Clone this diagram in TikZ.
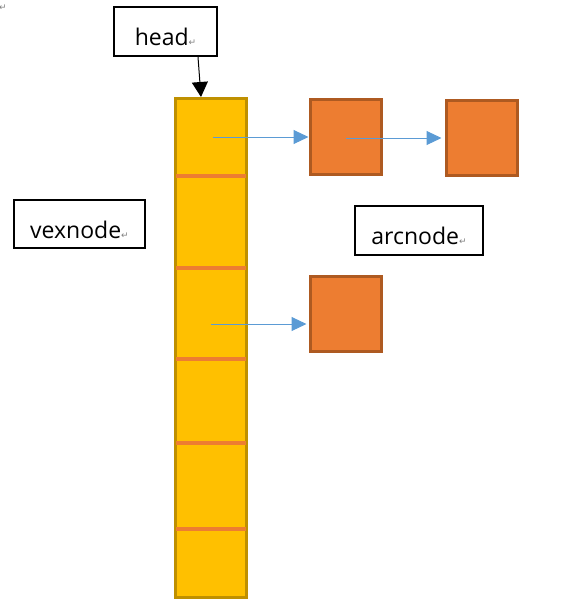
\documentclass[tikz,border=0pt]{standalone}
\usepackage{fontspec}
\setmainfont{Open Sans}
\newfontfamily\markfont{DejaVu Sans}
\usetikzlibrary{positioning,arrows.meta}
\definecolor{vexfill}{HTML}{FFC000}
\definecolor{vexdraw}{HTML}{BF9000}
\definecolor{arcfill}{HTML}{ED7D31}
\definecolor{arcdraw}{HTML}{AE5A21}
\definecolor{linkblue}{HTML}{5B9BD5}
\newcommand{\pmark}{{\markfont\fontsize{9}{9}\selectfont\color{gray}↵}}

\begin{document}
\begin{tikzpicture}[x=1pt, y=-1pt,
    tag/.style={rectangle, draw, line width=2pt, inner sep=0pt, text height=28pt, text depth=0pt, font=\fontsize{23}{23}\selectfont},
    vexcol/.style={rectangle, draw=vexdraw, fill=vexfill, line width=3pt, minimum width=71pt, minimum height=499pt, inner sep=0pt},
    sep/.style={draw=arcfill, line width=3.5pt, shorten <=2pt, shorten >=2pt},
    arcbox/.style={rectangle, draw=arcdraw, fill=arcfill, line width=3pt, minimum width=71pt, minimum height=75pt, inner sep=0pt},
    arclink/.style={draw=linkblue, line width=1pt, -{Triangle[length=15pt, width=14pt]}, linkblue}
]
\useasboundingbox (0,0) rectangle (561,608);

% Labels
\node[anchor=north west, inner sep=0pt] (pm) at (-1,5) {\pmark};
\node[tag, minimum width=103pt, minimum height=49pt] (head) at (165.5,31.5) {head\pmark};
\node[tag, minimum width=131pt, minimum height=48pt] (vexname) at (79.5,224) {vexnode\pmark};
\node[tag, minimum width=128pt, minimum height=49pt] (arcname) at (419,230.5) {arcnode\pmark};

% Vertex column
\node[vexcol] (vex) at (211,348) {};
\foreach \y in {176,268,359,443,529}
    \draw[sep] (vex.west |- 0,\y) -- (vex.east |- 0,\y);

% Arc nodes
\node[arcbox] (arc1) at (345.5,136.5) {};
\node[arcbox] (arc2) at (481.5,137.5) {};
\node[arcbox] (arc3) at (345.5,313.5) {};

% Connections
\coordinate (hs) at (198,57);
\draw[line width=1pt, -{Triangle[length=15pt, width=16pt]}] (hs) -- ([xshift=-10pt]vex.north);
\coordinate (c1) at (213,137);
\coordinate (c2) at (346,138);
\coordinate (c3) at (211,324);
\draw[arclink] (c1) -- (c1 -| arc1.west);
\draw[arclink, shorten >=3pt] (c2) -- (c2 -| arc2.west);
\draw[arclink, shorten >=2pt] (c3) -- (c3 -| arc3.west);

\end{tikzpicture}
\end{document}
